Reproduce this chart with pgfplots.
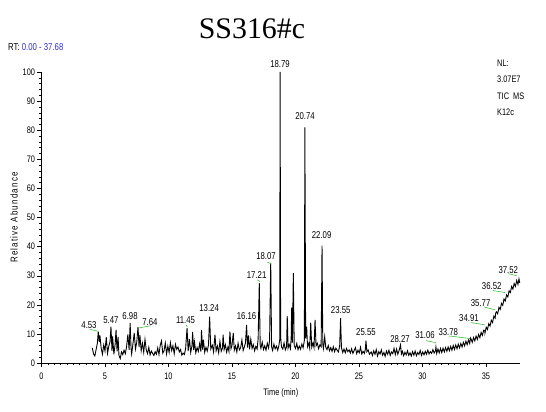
\documentclass[border=0pt]{standalone}
\usepackage{fontspec}
\setmainfont[FakeStretch=0.78]{Liberation Sans}
\newfontfamily\titlefont{Liberation Serif}
\newfontfamily\spacedfont[FakeStretch=0.8,LetterSpace=12]{Liberation Sans}
\usepackage{pgfplots}
\pgfplotsset{compat=1.18}
\definecolor{rtblue}{RGB}{45,45,205}
\definecolor{lblgreen}{RGB}{60,190,60}
\begin{document}
\begin{tikzpicture}
\path[use as bounding box] (0,0) rectangle (546bp,412bp);
\node[font=\titlefont\fontsize{30}{30}\selectfont, anchor=base] at (252bp,373bp) {SS316\#c};
\node[font=\fontsize{10}{10}\selectfont, anchor=base west, inner sep=0pt] at (8bp,361bp) {RT: \textcolor{rtblue}{0.00 - 37.68}};
\node[font=\fontsize{9.5}{10}\selectfont, anchor=base west, inner sep=0pt] at (497bp,345bp) {NL:};
\node[font=\fontsize{9.5}{10}\selectfont, anchor=base west, inner sep=0pt] at (497bp,329bp) {3.07E7};
\node[font=\fontsize{9.5}{10}\selectfont, anchor=base west, inner sep=0pt] at (497bp,312bp) {TIC\ \ MS};
\node[font=\fontsize{9.5}{10}\selectfont, anchor=base west, inner sep=0pt] at (497bp,296bp) {K12c};
\begin{axis}[
  at={(41.5bp,49bp)}, anchor=south west,
  scale only axis, width=478.5bp, height=291bp,
  xmin=0, xmax=37.68, ymin=0, ymax=100,
  axis x line*=bottom, axis y line*=left,
  axis line style={-, line width=0.5pt},
  xtick={0,5,...,35}, minor x tick num=9,
  ytick={0,10,...,100}, minor y tick num=4,
  tick align=outside,
  major tick length=4bp, minor tick length=2bp,
  every tick/.style={black, line width=0.4pt},
  tick label style={font=\fontsize{9.5}{10}\selectfont},
  /pgf/number format/assume math mode=true,
  xticklabel style={yshift=-2bp},
  yticklabel style={xshift=1bp},
  xlabel={Time (min)},
  ylabel={\spacedfont Relative Abundance},
  every axis x label/.style={at={(axis description cs:0.5,0)}, anchor=center, yshift=-30bp, font=\fontsize{9.5}{10}\selectfont},
  every axis y label/.style={at={(axis description cs:0,0.5)}, anchor=center, rotate=90, yshift=27.5bp, font=\fontsize{10}{10}\selectfont},
  clip=false,
  unbounded coords=jump,
]
\addplot[black, line width=0.9pt] table {
4.0 5.2
4.1 3.1
4.2 2.4
4.3 4.6
4.4 6.8
4.47 10.8
4.55 7.2
4.6 9.5
4.7 5.1
4.8 3.0
4.9 6.2
5.0 4.1
5.1 8.9
5.2 3.3
5.3 5.8
5.4 7.4
5.47 12.5
5.55 4.2
5.6 9.1
5.7 3.0
5.8 6.5
5.87 11.4
5.95 4.0
6.03 9.0
6.1 2.6
6.2 1.5
6.3 3.8
6.4 2.9
6.5 4.4
6.6 3.2
6.7 5.6
6.8 9.8
6.9 4.5
6.98 13.8
7.05 5.0
7.1 3.1
7.2 6.6
7.3 10.3
7.4 4.8
7.5 7.1
7.6 12.4
7.68 5.5
7.75 9.6
7.85 4.2
7.95 6.8
8.05 3.7
8.15 8.1
8.25 4.5
8.35 3.2
8.45 5.4
8.55 2.8
8.65 4.1
8.75 3.3
8.85 2.6
8.95 3.9
9.05 3.0
9.15 5.2
9.25 2.9
9.35 6.1
9.45 7.6
9.55 3.4
9.65 4.2
9.75 6.9
9.85 3.1
9.95 5.8
10.05 3.6
10.15 7.0
10.25 4.3
10.35 5.9
10.45 3.2
10.55 6.4
10.65 4.7
10.75 5.5
10.85 3.8
10.95 4.6
11.05 2.7
11.15 3.4
11.25 2.9
11.35 5.0
11.46 12.0
11.55 4.1
11.65 8.3
11.75 3.6
11.85 6.0
11.9 10.7
11.98 4.4
12.05 7.2
12.15 3.5
12.25 5.3
12.35 4.0
12.45 6.6
12.55 3.9
12.6 11.4
12.68 4.6
12.75 8.0
12.85 3.7
12.95 5.4
13.05 4.1
13.15 6.2
13.24 15.9
13.33 4.8
13.45 6.1
13.55 3.8
13.66 9.7
13.75 4.2
13.85 5.8
13.95 3.5
14.05 7.4
14.15 4.0
14.25 5.1
14.3 9.7
14.38 4.6
14.48 6.3
14.58 3.7
14.68 5.5
14.76 4.0
14.84 10.8
14.92 4.9
15.0 6.0
15.1 10.3
15.18 4.4
15.28 5.9
15.38 3.8
15.48 6.8
15.58 4.5
15.68 5.2
15.78 7.9
15.88 4.3
15.98 5.6
16.06 6.9
16.15 13.1
16.22 5.3
16.3 9.5
16.38 4.7
16.48 8.2
16.58 5.0
16.68 6.3
16.78 4.2
16.88 5.7
16.98 4.8
17.06 8.4
17.15 27.5
17.22 6.1
17.28 5.0
17.38 7.2
17.48 4.6
17.58 5.9
17.68 4.4
17.78 6.8
17.88 5.2
17.96 7.7
18.05 34.4
18.12 5.6
18.2 4.3
18.3 6.5
18.4 4.9
18.5 5.8
18.6 4.4
18.7 6.2
18.76 8.0
18.79 100
18.83 9.0
18.9 5.5
19.0 4.8
19.1 6.9
19.2 4.5
19.3 5.6
19.35 16.2
19.42 5.2
19.5 6.4
19.6 4.9
19.66 8.5
19.7 19.0
19.76 7.0
19.83 30.9
19.9 6.0
20.0 5.0
20.1 6.7
20.2 4.6
20.3 5.8
20.4 4.7
20.5 6.5
20.6 5.2
20.7 7.8
20.74 81.0
20.8 8.5
20.88 12.5
20.95 5.6
21.05 6.8
21.12 5.1
21.2 13.9
21.28 5.4
21.38 6.9
21.46 5.3
21.54 14.8
21.62 5.9
21.72 6.8
21.82 4.9
21.92 6.2
22.02 5.6
22.09 40.3
22.15 6.4
22.2 5.0
22.3 9.0
22.38 5.5
22.48 4.6
22.58 6.0
22.68 4.2
22.78 5.3
22.88 4.0
22.98 5.6
23.08 3.9
23.18 5.1
23.28 4.4
23.38 3.8
23.48 5.9
23.55 15.4
23.62 5.2
23.72 3.6
23.82 4.8
23.92 3.5
24.02 5.0
24.12 3.9
24.22 4.5
24.32 3.4
24.42 4.9
24.52 3.3
24.62 4.3
24.72 5.3
24.82 3.2
24.92 4.4
25.02 3.5
25.12 5.4
25.22 3.1
25.32 4.0
25.42 3.3
25.5 4.7
25.55 7.7
25.62 3.9
25.72 4.5
25.82 3.0
25.96 3.8
26.06 2.6
26.16 4.2
26.26 3.0
26.36 4.6
26.46 2.4
26.56 3.9
26.66 3.1
26.76 4.5
26.86 2.7
26.96 3.6
27.06 2.3
27.16 4.1
27.26 3.0
27.36 4.4
27.46 2.6
27.56 3.8
27.66 3.2
27.76 5.0
27.86 2.9
27.96 4.8
28.06 3.0
28.16 4.3
28.27 6.2
28.34 3.1
28.42 4.0
28.52 2.5
28.62 3.7
28.72 2.8
28.82 4.2
28.92 2.6
29.02 3.5
29.12 2.4
29.22 3.9
29.32 2.7
29.42 4.1
29.52 2.5
29.62 3.6
29.72 2.9
29.82 4.3
29.92 2.6
30.02 3.8
30.12 2.8
30.22 4.0
30.32 3.0
30.42 4.4
30.52 3.1
30.62 3.9
30.72 3.3
30.82 4.6
30.92 3.4
31.02 4.2
31.06 5.5
31.12 3.3
31.22 4.8
31.32 3.5
31.42 5.0
31.52 3.6
31.62 5.1
31.72 3.8
31.82 5.3
31.92 4.0
32.02 5.5
32.12 4.2
32.22 5.7
32.32 4.4
32.42 6.0
32.52 4.7
32.62 6.2
32.72 4.9
32.82 6.5
32.92 5.2
33.02 6.7
33.12 5.5
33.22 7.1
33.32 5.9
33.42 7.5
33.52 6.3
33.62 7.9
33.72 6.7
33.78 8.6
33.82 8.3
33.92 7.1
34.02 8.75
34.12 7.6
34.22 9.25
34.32 8.1
34.42 9.8
34.52 8.7
34.62 10.5
34.72 9.5
34.82 11.3
34.91 11.2
34.92 10.3
35.02 12.3
35.12 11.5
35.22 13.5
35.32 12.7
35.42 14.7
35.52 13.9
35.62 16.1
35.72 15.4
35.77 17.2
35.82 17.6
35.92 16.9
36.02 19.1
36.12 18.4
36.22 20.5
36.32 19.8
36.42 22.0
36.52 21.3
36.62 23.4
36.72 22.7
36.82 24.8
36.92 24.2
37.02 26.3
37.12 25.4
37.22 27.3
37.32 26.3
37.42 28.4
37.52 27.0
37.6 28.9
37.66 27.5
};
\addplot[lblgreen, line width=0.6pt] coordinates {
(3.82,11.6) (4.45,10.9) (nan,nan)
(7.62,12.0) (8.6,12.8) (nan,nan)
(11.38,13.1) (11.48,12.4) (nan,nan)
(16.99,28.6) (17.2,28.0) (nan,nan)
(17.78,34.7) (18.05,34.1) (nan,nan)
(30.28,7.7) (31.06,7.0) (nan,nan)
(32.11,9.3) (33.74,8.4) (nan,nan)
(33.82,13.9) (34.92,13.1) (nan,nan)
(34.87,19.2) (35.71,18.3) (nan,nan)
(35.57,24.9) (36.5,24.2) (nan,nan)
(36.76,30.7) (37.42,30.0)
};
\begin{scope}[every node/.style={font=\fontsize{10}{10}\selectfont, anchor=center, inner sep=0pt}]
\node at (axis cs:3.74,13.1) {4.53};
\node at (axis cs:5.47,14.6) {5.47};
\node at (axis cs:6.97,16.2) {6.98};
\node at (axis cs:8.54,14.0) {7.64};
\node at (axis cs:11.34,14.8) {11.45};
\node at (axis cs:13.2,18.9) {13.24};
\node at (axis cs:16.15,16.0) {16.16};
\node at (axis cs:16.94,30.3) {17.21};
\node at (axis cs:17.68,36.7) {18.07};
\node at (axis cs:18.78,102.8) {18.79};
\node at (axis cs:20.75,84.7) {20.74};
\node at (axis cs:22.06,43.8) {22.09};
\node at (axis cs:23.56,18.3) {23.55};
\node at (axis cs:25.55,10.6) {25.55};
\node at (axis cs:28.23,8.2) {28.27};
\node at (axis cs:30.2,9.7) {31.06};
\node at (axis cs:32.03,10.8) {33.78};
\node at (axis cs:33.66,15.4) {34.91};
\node at (axis cs:34.58,20.6) {35.77};
\node at (axis cs:35.45,26.6) {36.52};
\node at (axis cs:36.76,32.1) {37.52};
\end{scope}
\end{axis}
\end{tikzpicture}
\end{document}
